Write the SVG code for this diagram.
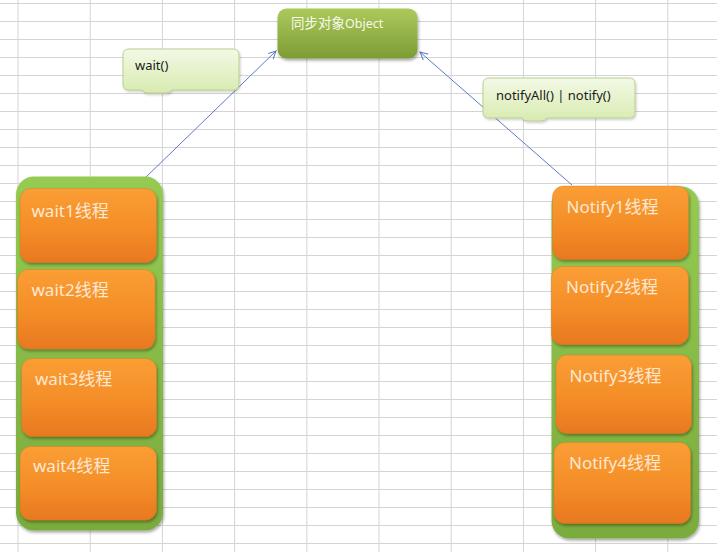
<svg xmlns="http://www.w3.org/2000/svg" width="717" height="552" viewBox="0 0 717 552">
<defs>
<style>
.grid{stroke:#d4d4d4;stroke-width:1;fill:none}
.conn{stroke:#5b7bc0;stroke-width:1;fill:none}
.orange{fill:url(#gOrange);stroke:#d87420;stroke-opacity:0.35;stroke-width:1}
.cont{fill:url(#gGreen)}
.ot{font-family:"Noto Sans","Noto Sans CJK SC",sans-serif;font-size:17px;fill:#fde8d2}
.ct{font-family:"Noto Sans","Noto Sans CJK SC",sans-serif;font-size:13px;fill:#1a1a1a}
.callout{fill:url(#gCallout);stroke:#b8cf8e;stroke-width:1}
</style>
<linearGradient id="gOrange" x1="0" y1="0" x2="0" y2="1"><stop offset="0" stop-color="#fa9e34"/><stop offset="0.55" stop-color="#f48d28"/><stop offset="1" stop-color="#e8781f"/></linearGradient>
<linearGradient id="gGreen" x1="0" y1="0" x2="0" y2="1"><stop offset="0" stop-color="#95cb52"/><stop offset="1" stop-color="#7aab3d"/></linearGradient>
<linearGradient id="gTitle" x1="0" y1="0" x2="0" y2="1"><stop offset="0" stop-color="#acc95c"/><stop offset="1" stop-color="#7d9c34"/></linearGradient>
<linearGradient id="gCallout" x1="0" y1="0" x2="0" y2="1"><stop offset="0" stop-color="#f3f9e6"/><stop offset="1" stop-color="#d8ebb0"/></linearGradient>
<filter id="sh" x="-15%" y="-15%" width="140%" height="140%"><feDropShadow dx="1" dy="2" stdDeviation="1.6" flood-color="#000" flood-opacity="0.35"/></filter>
<filter id="shs" x="-15%" y="-15%" width="140%" height="140%"><feDropShadow dx="1" dy="1.5" stdDeviation="1.2" flood-color="#000" flood-opacity="0.2"/></filter>
<marker id="arr" markerWidth="10" markerHeight="10" refX="8" refY="4" orient="auto" markerUnits="userSpaceOnUse"><path d="M0,0 L8,4 L0,8" fill="none" stroke="#5b7bc0" stroke-width="1"/></marker>
</defs>
<rect width="717" height="552" fill="#ffffff"/>
<g id="grid">
<path class="grid" d="M18,0V552M90.2,0V552M162.4,0V552M234.6,0V552M306.8,0V552M379,0V552M451.2,0V552M523.4,0V552M595.6,0V552M667.8,0V552"/>
<path class="grid" d="M0,3.5H717M0,21.5H717M0,39.5H717M0,57.5H717M0,75.5H717M0,93.5H717M0,111.5H717M0,129.5H717M0,147.5H717M0,165.5H717M0,183.5H717M0,201.5H717M0,219.5H717M0,237.5H717M0,255.5H717M0,273.5H717M0,291.5H717M0,309.5H717M0,327.5H717M0,345.5H717M0,363.5H717M0,381.5H717M0,399.5H717M0,417.5H717M0,435.5H717M0,453.5H717M0,471.5H717M0,489.5H717M0,507.5H717M0,525.5H717M0,543.5H717"/>
</g>
<g id="connectors">
<line class="conn" x1="145" y1="178" x2="276" y2="51" marker-end="url(#arr)"/>
<line class="conn" x1="572" y1="185" x2="420" y2="52" marker-end="url(#arr)"/>
</g>
<g id="title">
<rect x="277.5" y="8.5" width="140" height="50" rx="9" fill="url(#gTitle)" filter="url(#sh)"/>
<text x="291" y="28" font-family="'Noto Sans','Noto Sans CJK SC',sans-serif" fill="#f6faea"><tspan font-size="13.5px">同步对象</tspan><tspan font-size="12.5px">Object</tspan></text>
</g>
<g id="wait-callout">
<path class="callout" filter="url(#shs)" d="M129,49 H233 Q239,49 239,55 V84 Q239,90 233,90 H172 Q170,93 166,93 H148 Q144,93 142,90 H129 Q123,90 123,84 V55 Q123,49 129,49 Z"/>
<text class="ct" x="135" y="70">wait()</text>
</g>
<g id="notify-callout">
<path class="callout" filter="url(#shs)" d="M489,78 H629 Q635,78 635,84 V112 Q635,118 629,118 H547 Q545,121 541,121 H528 Q524,121 522,118 H489 Q483,118 483,112 V84 Q483,78 489,78 Z"/>
<text class="ct" x="496" y="100">notifyAll() | notify()</text>
</g>
<g id="wait-group">
<rect class="cont" x="16" y="176.5" width="147" height="354" rx="18" filter="url(#sh)"/>
</g>
<g id="wait1"><rect class="orange" x="20" y="188.5" width="136.5" height="74" rx="11" filter="url(#sh)"/><text class="ot" x="31.5" y="216.5">wait1线程</text></g>
<g id="wait2"><rect class="orange" x="17.5" y="269.5" width="137.5" height="79.5" rx="11" filter="url(#sh)"/><text class="ot" x="31.5" y="295.5">wait2线程</text></g>
<g id="wait3"><rect class="orange" x="21.5" y="358.5" width="135" height="78" rx="11" filter="url(#sh)"/><text class="ot" x="35" y="385">wait3线程</text></g>
<g id="wait4"><rect class="orange" x="20" y="446.5" width="136.5" height="73.5" rx="11" filter="url(#sh)"/><text class="ot" x="33" y="471.5">wait4线程</text></g>
<g id="notify-group">
<rect class="cont" x="551.5" y="186.5" width="147.5" height="352" rx="18" filter="url(#sh)"/>
</g>
<g id="notify1"><rect class="orange" x="552.5" y="186" width="136" height="73.5" rx="11" filter="url(#sh)"/><text class="ot" x="566.5" y="212.5">Notify1线程</text></g>
<g id="notify2"><rect class="orange" x="551.5" y="266.5" width="137" height="78" rx="11" filter="url(#sh)"/><text class="ot" x="566" y="292.5">Notify2线程</text></g>
<g id="notify3"><rect class="orange" x="556" y="355" width="135.5" height="78.5" rx="11" filter="url(#sh)"/><text class="ot" x="569.5" y="381.5">Notify3线程</text></g>
<g id="notify4"><rect class="orange" x="554" y="442.5" width="136.5" height="81" rx="11" filter="url(#sh)"/><text class="ot" x="569" y="468.5">Notify4线程</text></g>
</svg>
